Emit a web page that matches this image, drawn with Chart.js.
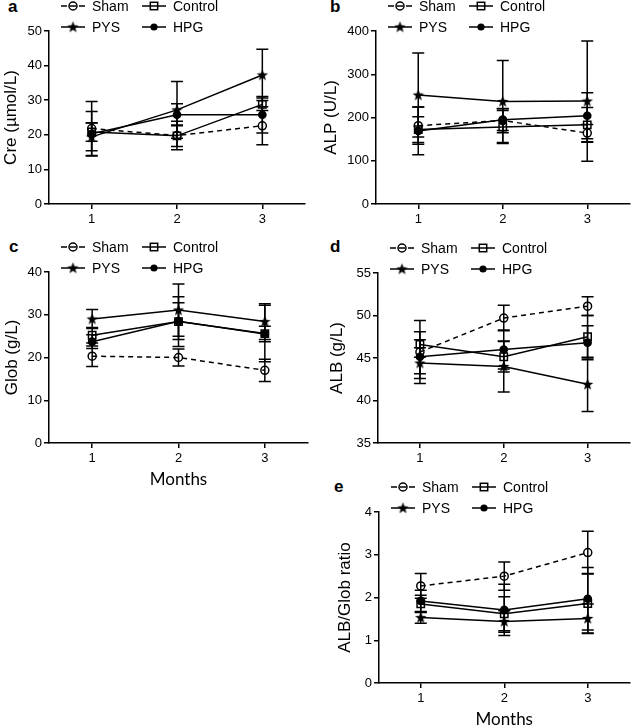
<!DOCTYPE html>
<html>
<head>
<meta charset="utf-8">
<script src="https://cdn.jsdelivr.net/npm/chart.js@4.4.0/dist/chart.umd.min.js"></script>
<style>
  body { margin: 0; background: #fff; width: 637px; height: 725px; position: relative; overflow: hidden; }
  .panel { position: absolute; }
  .tag { position: absolute; font: bold 17px "Liberation Sans", Arial, sans-serif; line-height: 20px; }
</style>
</head>
<body>
<div class="tag" style="left:8px;top:-3px">a</div>
<div class="tag" style="left:330px;top:-3px">b</div>
<div class="tag" style="left:9px;top:237px">c</div>
<div class="tag" style="left:330px;top:237px">d</div>
<div class="tag" style="left:334px;top:477px">e</div>

<div class="panel" style="left:0;top:0;width:318px;height:232px"><canvas id="chartA"></canvas></div>
<div class="panel" style="left:318px;top:0;width:319px;height:232px"><canvas id="chartB"></canvas></div>
<div class="panel" style="left:0;top:225px;width:318px;height:263px"><canvas id="chartC"></canvas></div>
<div class="panel" style="left:318px;top:225px;width:319px;height:240px"><canvas id="chartD"></canvas></div>
<div class="panel" style="left:318px;top:460px;width:319px;height:268px"><canvas id="chartE"></canvas></div>

<script>
// x categories and groups
var months = ['1', '2', '3'];
var groups = ['Sham', 'Control', 'PYS', 'HPG'];

// means / SD, rows = Sham, Control, PYS, HPG
var creMean = [[21.8, 19.8, 22.6], [20.8, 19.7, 28.8], [19.4, 27.2, 37.3], [20.3, 25.8, 25.8]];
var creErr  = [[7.8, 4.1, 5.5], [2.7, 3.1, 1.8], [4.0, 8.2, 7.4], [6.4, 3.2, 5.3]];
var alpMean = [[181, 193, 164], [172, 178, 183], [252, 237, 238], [169, 195, 204]];
var alpErr  = [[43, 28, 20], [30, 38, 40], [97, 95, 139], [55, 25, 53]];
var globMean = [[20.3, 20.0, 17.0], [25.2, 28.4, 25.6], [29.0, 31.1, 28.4], [23.7, 28.5, 25.5]];
var globErr  = [[2.4, 2.0, 2.6], [1.8, 5.8, 6.6], [2.2, 6.1, 4.2], [1.6, 4.3, 1.8]];
var albMean = [[45.7, 49.7, 51.1], [46.6, 45.15, 47.5], [44.4, 44.0, 41.9], [45.15, 46.0, 46.8]];
var albErr  = [[3.7, 1.5, 1.1], [1.5, 1.8, 2.5], [1.8, 3.0, 3.2], [2.0, 2.3, 2.0]];
var ratioMean = [[2.27, 2.50, 3.05], [1.85, 1.62, 1.86], [1.53, 1.44, 1.51], [1.92, 1.71, 1.97]];
var ratioErr  = [[0.29, 0.33, 0.50], [0.20, 0.40, 0.70], [0.13, 0.25, 0.34], [0.25, 0.60, 0.73]];

// y tick labels per panel
var creTicks = [0, 10, 20, 30, 40, 50];
var alpTicks = [0, 100, 200, 300, 400];
var globTicks = [0, 10, 20, 30, 40];
var albTicks = [35, 40, 45, 50, 55];
var ratioTicks = [0, 1, 2, 3, 4];

var FONT = '"Liberation Sans", Arial, sans-serif';

// filled five point star for PYS
function makeStar() {
  var c = document.createElement('canvas');
  c.width = 13; c.height = 13;
  var g = c.getContext('2d');
  g.beginPath();
  for (var k = 0; k < 10; k++) {
    var r = k % 2 ? 2.5 : 6;
    var a = -Math.PI / 2 + k * Math.PI / 5;
    g.lineTo(6.5 + r * Math.cos(a), 6.8 + r * Math.sin(a));
  }
  g.closePath();
  g.fillStyle = '#000';
  g.fill();
  return c;
}
var star = makeStar();

var styles = [
  { pointStyle: 'circle', pointRadius: 4, pointBackgroundColor: 'rgba(0,0,0,0)', borderDash: [5, 4] },
  { pointStyle: 'rect', pointRadius: 5.2, pointBackgroundColor: 'rgba(0,0,0,0)', borderDash: [] },
  { pointStyle: star, pointRadius: 6, pointBackgroundColor: '#000', borderDash: [] },
  { pointStyle: 'circle', pointRadius: 3.6, pointBackgroundColor: '#000', borderDash: [] }
];

var errorBars = {
  id: 'errorBars',
  afterDatasetsDraw: function (chart) {
    var ctx = chart.ctx, y = chart.scales.y;
    ctx.save();
    ctx.strokeStyle = '#000';
    ctx.lineWidth = 1.5;
    chart.data.datasets.forEach(function (ds, i) {
      chart.getDatasetMeta(i).data.forEach(function (pt, j) {
        var hi = y.getPixelForValue(ds.data[j] + ds.errors[j]);
        var lo = y.getPixelForValue(ds.data[j] - ds.errors[j]);
        ctx.beginPath();
        ctx.moveTo(pt.x, hi); ctx.lineTo(pt.x, lo);
        ctx.moveTo(pt.x - 6, hi); ctx.lineTo(pt.x + 6, hi);
        ctx.moveTo(pt.x - 6, lo); ctx.lineTo(pt.x + 6, lo);
        ctx.stroke();
      });
    });
    ctx.restore();
  }
};

function drawMarker(ctx, i, x, y) {
  ctx.lineWidth = 1.5;
  ctx.strokeStyle = '#000';
  ctx.fillStyle = '#000';
  if (i === 0) {
    ctx.beginPath(); ctx.arc(x, y, 4, 0, Math.PI * 2); ctx.stroke();
  } else if (i === 1) {
    ctx.strokeRect(x - 3.7, y - 3.7, 7.4, 7.4);
  } else if (i === 2) {
    ctx.drawImage(star, x - 6.5, y - 6.5);
  } else {
    ctx.beginPath(); ctx.arc(x, y, 3.6, 0, Math.PI * 2); ctx.fill();
  }
}

// two-row legend above the plot, line + marker + label
var topLegend = {
  id: 'topLegend',
  afterDraw: function (chart) {
    var ctx = chart.ctx, area = chart.chartArea;
    ctx.save();
    chart.data.datasets.forEach(function (ds, i) {
      var col = i % 2, row = Math.floor(i / 2);
      var x0 = area.left + 12 + col * 81;
      var y0 = area.top - 25 + row * 21;
      ctx.strokeStyle = '#000';
      ctx.lineWidth = 1.5;
      ctx.setLineDash(i === 0 ? [6, 3] : []);
      ctx.beginPath(); ctx.moveTo(x0, y0); ctx.lineTo(x0 + 24, y0); ctx.stroke();
      ctx.setLineDash([]);
      drawMarker(ctx, i, x0 + 12, y0);
      ctx.fillStyle = '#000';
      ctx.font = '14px ' + FONT;
      ctx.textBaseline = 'middle';
      ctx.fillText(ds.label, x0 + 31, y0 + 1);
    });
    ctx.restore();
  }
};

function makePanel(id, mean, err, ticks, yTitle, xTitle, box) {
  var datasets = groups.map(function (g, i) {
    return {
      label: g,
      data: mean[i],
      errors: err[i],
      borderColor: '#000',
      borderWidth: 1.5,
      borderDash: styles[i].borderDash,
      pointStyle: styles[i].pointStyle,
      pointRadius: styles[i].pointRadius,
      pointBackgroundColor: styles[i].pointBackgroundColor,
      pointBorderColor: '#000',
      pointBorderWidth: 1.5,
      tension: 0
    };
  });
  return new Chart(id, {
    type: 'line',
    data: { labels: months, datasets: datasets },
    plugins: [errorBars, topLegend],
    options: {
      responsive: true,
      maintainAspectRatio: false,
      animation: false,
      events: [],
      layout: { padding: { top: box.top, right: box.right, left: 0, bottom: 0 } },
      plugins: { legend: { display: false }, tooltip: { enabled: false } },
      scales: {
        x: {
          type: 'category',
          offset: true,
          afterFit: function (s) { s.height = box.xh; },
          grid: { drawOnChartArea: false, drawTicks: true, tickLength: 5, color: '#000', lineWidth: 1.5 },
          border: { color: '#000', width: 1.5 },
          ticks: { color: '#000', font: { family: FONT, size: 13 }, padding: 3, maxRotation: 0 },
          title: {
            display: !!xTitle, text: xTitle, color: '#000',
            font: { family: 'Lato, "Open Sans", sans-serif', size: 17, lineHeight: 1 },
            padding: { top: 0, bottom: 0 }
          }
        },
        y: {
          min: ticks[0],
          max: ticks[ticks.length - 1],
          afterFit: function (s) { s.width = box.yw; },
          afterBuildTicks: function (s) { s.ticks = ticks.map(function (v) { return { value: v }; }); },
          grid: { drawOnChartArea: false, drawTicks: true, tickLength: 5, color: '#000', lineWidth: 1.5 },
          border: { color: '#000', width: 1.5 },
          ticks: { color: '#000', font: { family: FONT, size: 13 }, padding: 2 },
          title: {
            display: true, text: yTitle, color: '#000',
            font: { family: FONT, size: 17, lineHeight: 1.2 },
            padding: { top: box.tp, bottom: 0 }
          }
        }
      }
    }
  });
}

makePanel('chartA', creMean, creErr, creTicks, 'Cre (\u00b5mol/L)', '', { top: 31, right: 13, xh: 28, yw: 49, tp: 1 });
makePanel('chartB', alpMean, alpErr, alpTicks, 'ALP (U/L)', '', { top: 31, right: 3, xh: 28, yw: 58, tp: 3 });
makePanel('chartC', globMean, globErr, globTicks, 'Glob (g/L)', 'Months', { top: 47, right: 10, xh: 45, yw: 49, tp: 2 });
makePanel('chartD', albMean, albErr, albTicks, 'ALB (g/L)', '', { top: 48, right: 3, xh: 22, yw: 60, tp: 9 });
makePanel('chartE', ratioMean, ratioErr, ratioTicks, 'ALB/Glob ratio', 'Months', { top: 52, right: 3, xh: 45, yw: 61, tp: 17 });
</script>
</body>
</html>
